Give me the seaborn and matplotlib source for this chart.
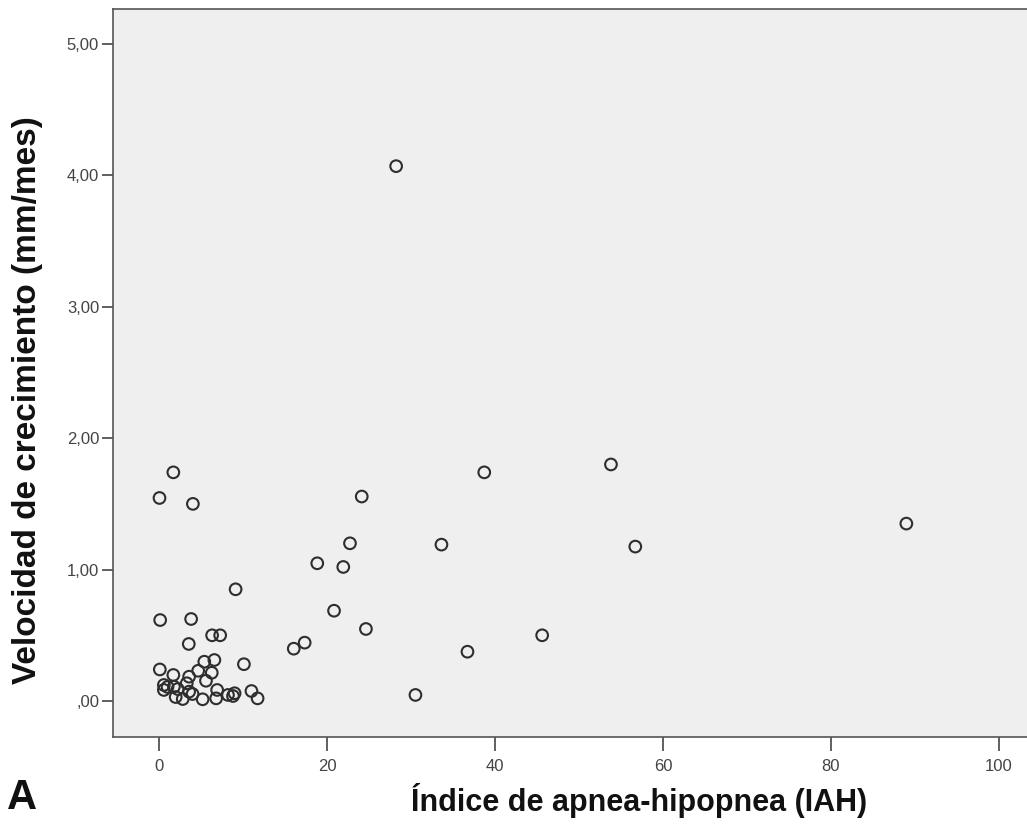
import matplotlib
matplotlib.use("Agg")
import matplotlib.pyplot as plt
import seaborn as sns
import pandas as pd
from matplotlib.ticker import FuncFormatter

iah = [28.2, 0.0, 1.65, 3.98, 38.7, 53.8, 89.0, 24.1, 22.7, 33.6, 56.7, 18.8, 21.9,
       9.07, 20.8, 0.08, 3.77, 6.27, 7.23, 24.6, 45.6, 36.7, 30.5, 17.3, 16.0, 3.49,
       0.04, 1.65, 0.52, 0.52, 1.72, 1.93, 3.25, 3.53, 3.53, 3.94, 4.61, 5.34, 6.54,
       6.23, 5.54, 5.14, 6.87, 6.75, 8.16, 8.95, 8.76, 10.96, 11.69, 10.06, 0.96,
       2.17, 2.77]
velocidad = [4.07, 1.545, 1.74, 1.50, 1.74, 1.80, 1.35, 1.556, 1.20, 1.19, 1.175, 1.048,
             1.02, 0.85, 0.687, 0.616, 0.624, 0.50, 0.50, 0.548, 0.50, 0.375, 0.046,
             0.444, 0.398, 0.434, 0.24, 0.198, 0.122, 0.084, 0.109, 0.03, 0.135, 0.185,
             0.071, 0.053, 0.23, 0.299, 0.312, 0.215, 0.154, 0.013, 0.084, 0.02, 0.046,
             0.059, 0.038, 0.076, 0.02, 0.28, 0.107, 0.091, 0.015]

x_ticks = [0, 20, 40, 60, 80, 100]
y_ticks = [0, 1, 2, 3, 4, 5]

xlabel = "Índice de apnea-hipopnea (IAH)"
ylabel = "Velocidad de crecimiento (mm/mes)"
panel = "A"

df = pd.DataFrame({"IAH": iah, "Velocidad": velocidad})

sns.set_style("white")
plt.rcParams['font.family'] = ['Liberation Sans', 'DejaVu Sans']

fig = plt.figure(figsize=(10.27, 8.32), dpi=100)
ax = fig.add_axes([113/1027, 1 - 737/832, 1 - 113/1027 + 0.01, (737 - 9)/832])
ax.set_facecolor("#efefef")

sns.scatterplot(data=df, x="IAH", y="Velocidad", ax=ax, marker="o", s=70,
                facecolor="none", edgecolor="#2e2e2e", linewidth=1.5, legend=False)

ax.set_xlim(-5.54, 104.6)
ax.set_ylim(-0.274, 5.266)
ax.set_xticks(x_ticks)
ax.set_yticks(y_ticks)
ax.yaxis.set_major_formatter(FuncFormatter(
    lambda v, p: ",00" if abs(v) < 1e-9 else f"{v:.2f}".replace(".", ",")))
ax.tick_params(axis="x", direction="out", length=10, width=1.2, color="#444444",
               labelsize=12, labelcolor="#444444", pad=6, bottom=True)
ax.tick_params(axis="y", direction="out", length=8, width=1.2, color="#444444",
               labelsize=12, labelcolor="#444444", pad=2, left=True)
for side in ["left", "bottom", "top", "right"]:
    ax.spines[side].set_color("#555555")
    ax.spines[side].set_linewidth(1.2)
ax.set_xlabel("")
ax.set_ylabel("")

fig.text(639/1027, 1 - 800/832, xlabel, ha="center", va="center",
         fontsize=22, fontweight="bold", color="#111111")
fig.text(28/1027, 1 - 400/832, ylabel, ha="center", va="center", rotation=90,
         fontsize=24, fontweight="bold", color="#111111")
fig.text(22/1027, 1 - 798/832, panel, ha="center", va="center",
         fontsize=30, fontweight="bold", color="#111111")

fig.savefig("out.png", dpi=100)
